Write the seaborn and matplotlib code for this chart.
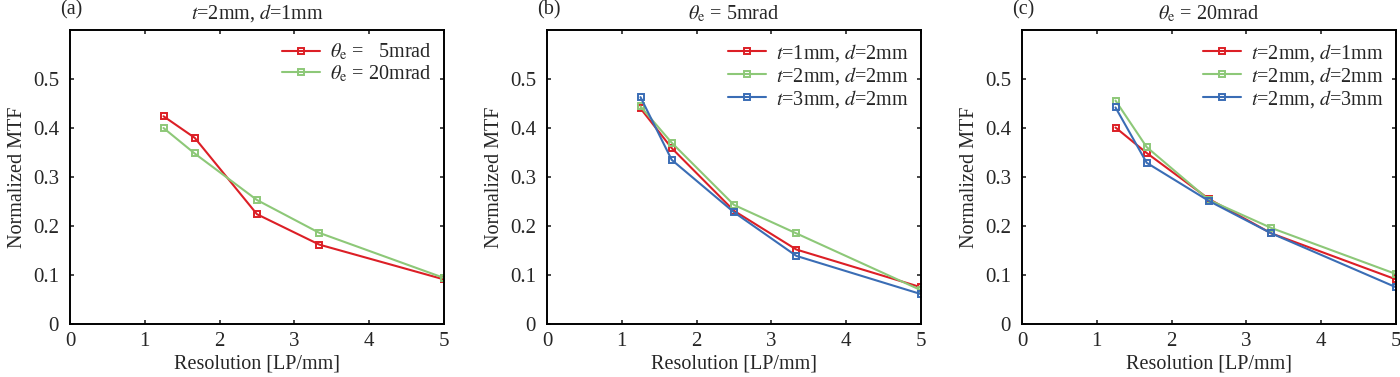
import numpy as np
import pandas as pd
import seaborn as sns
import matplotlib.pyplot as plt

# Data
resolution = [1.25, 1.667, 2.5, 3.333, 5.0]

# (a) t=2mm, d=1mm
a_5mrad = [0.424, 0.380, 0.224, 0.162, 0.091]
a_20mrad = [0.400, 0.348, 0.253, 0.186, 0.094]

# (b) theta_e = 5mrad
b_t1 = [0.440, 0.359, 0.231, 0.152, 0.075]
b_t2 = [0.444, 0.370, 0.243, 0.185, 0.069]
b_t3 = [0.463, 0.335, 0.228, 0.139, 0.061]

# (c) theta_e = 20mrad
c_d1 = [0.401, 0.349, 0.255, 0.185, 0.091]
c_d2 = [0.456, 0.361, 0.253, 0.196, 0.102]
c_d3 = [0.442, 0.329, 0.251, 0.185, 0.075]

red, green, blue = '#dc1f26', '#8dc878', '#3a6db5'

sns.set_style('ticks')
plt.rcParams['font.family'] = ['Liberation Serif', 'DejaVu Serif']
plt.rcParams['mathtext.fontset'] = 'stix'

fs = 14.5
fig = plt.figure(figsize=(14, 3.77), dpi=100)
W, H = 1400, 377
lefts = [70, 547, 1022]
axes = [fig.add_axes([l / W, 53 / H, 374 / W, 294 / H]) for l in lefts]

th = r'$\theta_{\rm e}$'
panels = [
    ('(a)', r'$t$=2mm, $d$=1mm',
     [(a_5mrad, red, th + ' =   5mrad'), (a_20mrad, green, th + ' = 20mrad')]),
    ('(b)', th + ' = 5mrad',
     [(b_t1, red, r'$t$=1mm, $d$=2mm'), (b_t2, green, r'$t$=2mm, $d$=2mm'),
      (b_t3, blue, r'$t$=3mm, $d$=2mm')]),
    ('(c)', th + ' = 20mrad',
     [(c_d1, red, r'$t$=2mm, $d$=1mm'), (c_d2, green, r'$t$=2mm, $d$=2mm'),
      (c_d3, blue, r'$t$=2mm, $d$=3mm')]),
]

for ax, l, (tag, title, series) in zip(axes, lefts, panels):
    for vals, col, lab in series:
        sns.lineplot(x=resolution, y=vals, ax=ax, color=col, marker='s',
                     markersize=4.5, markerfacecolor='none', markeredgecolor=col,
                     markeredgewidth=1.4, linewidth=1.5, label=lab)
    ax.set_xlim(0, 5)
    ax.set_ylim(0, 0.6)
    ax.set_xticks([0, 1, 2, 3, 4, 5])
    ax.set_yticks([0, 0.1, 0.2, 0.3, 0.4, 0.5])
    ax.set_yticklabels(['0', '0.1', '0.2', '0.3', '0.4', '0.5'])
    ax.tick_params(direction='in', top=True, right=True, length=3, width=1.2,
                   labelsize=15)
    ax.tick_params(axis='y', pad=8)
    ax.tick_params(axis='x', pad=6)
    for s in ax.spines.values():
        s.set_linewidth(1.4)
        s.set_color('black')
    ax.set_xlabel('Resolution [LP/mm]', fontsize=fs, labelpad=2)
    ax.set_ylabel('Normalized MTF', fontsize=fs, labelpad=4)
    ax.set_title(title, fontsize=fs, pad=8)
    fig.text((l - 10) / W, 0.999, tag, fontsize=fs, ha='left', va='top')
    ax.legend(loc='upper right', frameon=False, fontsize=fs,
              handlelength=1.9, handletextpad=0.5, labelspacing=0.05,
              borderaxespad=0.4, borderpad=0.2)

fig.savefig('out.png', dpi=100)
